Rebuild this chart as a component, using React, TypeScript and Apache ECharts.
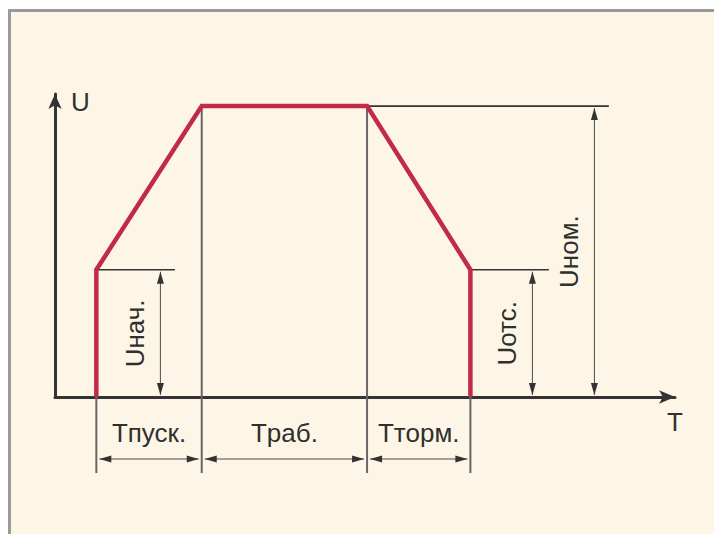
import React, { useEffect, useRef } from "react";
import * as echarts from "echarts";

// Phase boundary times: start, end of ramp-up, end of run, stop
const phaseTimes = [1.0, 3.55, 7.55, 10.05];
// Voltage levels
const uStart = 42; // Uнач.
const uNom = 96; // Uном.
const uStop = 42; // Uотс.

const phaseLabels = ["Tпуск.", "Tраб.", "Tторм."];
const levelLabels = ["Uнач.", "Uотс.", "Uном."];
const levelValues = [uStart, uStop, uNom];
// x positions (time units) of the vertical dimension arrows
const levelDimX = [2.55, 11.55, 13.05];
// end (time units) of the horizontal reference lines for each level
const levelLineEnd = [2.9, 11.95, 13.4];
// start (time units) of those reference lines
const levelLineStart = [phaseTimes[0], phaseTimes[3], phaseTimes[2]];

const profile = [
  [phaseTimes[0], 0],
  [phaseTimes[0], uStart],
  [phaseTimes[1], uNom],
  [phaseTimes[2], uNom],
  [phaseTimes[3], uStop],
  [phaseTimes[3], 0],
];

const FONT = "'Liberation Sans', Arial, sans-serif";
const FS = 26;
const TEXT_COLOR = "#2f2f2f";
const DARK = "#333333";

function arrowHead(tip: number[], from: number[], len: number, w: number, color: string) {
  const dx = tip[0] - from[0];
  const dy = tip[1] - from[1];
  const d = Math.hypot(dx, dy) || 1;
  const ux = dx / d, uy = dy / d;
  const nx = -uy, ny = ux;
  const bx = tip[0] - ux * len, by = tip[1] - uy * len;
  return {
    type: "polygon",
    shape: { points: [tip, [bx + (nx * w) / 2, by + (ny * w) / 2], [bx - (nx * w) / 2, by - (ny * w) / 2]] },
    style: { fill: color },
  };
}

export default function App() {
  const ref = useRef<HTMLDivElement>(null);
  useEffect(() => {
    if (!ref.current) return;
    const chart = echarts.init(ref.current, null, { renderer: "svg" });

    const refLineData = levelValues.map((v, i) => [levelLineStart[i], v, levelLineEnd[i], v]);
    const phaseLineData = phaseTimes.map((t, i) => [t, i === 1 || i === 2 ? uNom : 0]);
    const levelDimData = levelValues.map((v, i) => [levelDimX[i], v, i]);
    const phaseDimData = phaseLabels.map((_, i) => [phaseTimes[i], phaseTimes[i + 1], i]);

    const textStyle = (text: string) => ({
      text,
      fill: TEXT_COLOR,
      fontSize: FS,
      fontFamily: FONT,
      align: "center",
      verticalAlign: "middle",
    });

    chart.setOption({
      animation: false,
      backgroundColor: "#fdf6e6",
      grid: { left: 55, right: 39, top: 94, bottom: 137, containLabel: false },
      xAxis: {
        type: "value",
        min: 0,
        max: 15,
        axisLine: {
          show: true,
          symbol: ["none", "arrow"],
          symbolSize: [10, 16],
          lineStyle: { color: DARK, width: 3 },
        },
        axisTick: { show: false },
        axisLabel: { show: false },
        splitLine: { show: false },
        name: "T",
        nameLocation: "end",
        nameGap: 0,
        nameTextStyle: {
          fontFamily: FONT,
          fontSize: FS,
          color: TEXT_COLOR,
          align: "center",
          verticalAlign: "top",
          padding: [12, 0, 0, 0],
        },
      },
      yAxis: {
        type: "value",
        min: 0,
        max: 100,
        axisLine: {
          show: true,
          symbol: ["none", "arrow"],
          symbolSize: [10, 15],
          lineStyle: { color: DARK, width: 3 },
        },
        axisTick: { show: false },
        axisLabel: { show: false },
        splitLine: { show: false },
        name: "U",
        nameLocation: "end",
        nameGap: -8,
        nameTextStyle: {
          fontFamily: FONT,
          fontSize: FS,
          color: TEXT_COLOR,
          align: "left",
          verticalAlign: "middle",
          padding: [0, 0, 0, 16],
        },
      },
      graphic: [
        { type: "rect", shape: { x: 0, y: 0, width: 714, height: 9 }, style: { fill: "#ffffff" }, silent: true },
        { type: "rect", shape: { x: 0, y: 0, width: 8, height: 534 }, style: { fill: "#ffffff" }, silent: true },
        { type: "rect", shape: { x: 8, y: 9, width: 706, height: 3 }, style: { fill: "#9a9a9a" }, silent: true },
        { type: "rect", shape: { x: 8, y: 9, width: 3, height: 525 }, style: { fill: "#9a9a9a" }, silent: true },
      ],
      series: [
        {
          name: "refLines",
          type: "custom",
          z: 3,
          clip: false,
          data: refLineData,
          renderItem: (_p: any, api: any) => {
            const a = api.coord([api.value(0), api.value(1)]);
            const b = api.coord([api.value(2), api.value(3)]);
            return {
              type: "line",
              shape: { x1: a[0], y1: a[1], x2: b[0], y2: b[1] },
              style: { stroke: DARK, lineWidth: 1.6 },
            };
          },
        },
        {
          name: "phaseLines",
          type: "custom",
          z: 3,
          clip: false,
          data: phaseLineData,
          renderItem: (_p: any, api: any) => {
            const top = api.coord([api.value(0), api.value(1)]);
            const base = api.coord([api.value(0), 0]);
            return {
              type: "line",
              shape: { x1: top[0], y1: top[1], x2: top[0], y2: base[1] + 76 },
              style: { stroke: "#666666", lineWidth: 2 },
            };
          },
        },
        {
          name: "levelDims",
          type: "custom",
          z: 3,
          clip: false,
          data: levelDimData,
          renderItem: (_p: any, api: any) => {
            const x = api.value(0);
            const lvl = api.value(1);
            const idx = api.value(2);
            const bot = api.coord([x, 0]);
            const top = api.coord([x, lvl]);
            const mid = api.coord([x, lvl / 2]);
            return {
              type: "group",
              children: [
                {
                  type: "line",
                  shape: { x1: bot[0], y1: bot[1] - 2, x2: top[0], y2: top[1] + 2 },
                  style: { stroke: "#4a4a4a", lineWidth: 1 },
                },
                arrowHead([top[0], top[1] + 2], [bot[0], bot[1]], 12, 7, DARK),
                arrowHead([bot[0], bot[1] - 2], [top[0], top[1]], 12, 7, DARK),
                {
                  type: "text",
                  x: mid[0] - 25,
                  y: mid[1],
                  rotation: Math.PI / 2,
                  style: textStyle(levelLabels[idx]),
                },
              ],
            };
          },
        },
        {
          name: "phaseDims",
          type: "custom",
          z: 3,
          clip: false,
          data: phaseDimData,
          renderItem: (_p: any, api: any) => {
            const t1 = api.value(0);
            const t2 = api.value(1);
            const idx = api.value(2);
            const a = api.coord([t1, 0]);
            const b = api.coord([t2, 0]);
            const y = a[1] + 62;
            const l = [a[0] + 3, y];
            const r = [b[0] - 3, y];
            return {
              type: "group",
              children: [
                {
                  type: "line",
                  shape: { x1: l[0], y1: y, x2: r[0], y2: y },
                  style: { stroke: "#4a4a4a", lineWidth: 1 },
                },
                arrowHead(l, r, 12, 7, DARK),
                arrowHead(r, l, 12, 7, DARK),
                {
                  type: "text",
                  x: (a[0] + b[0]) / 2,
                  y: a[1] + 36,
                  style: textStyle(phaseLabels[idx]),
                },
              ],
            };
          },
        },
        {
          name: "U",
          type: "line",
          z: 5,
          clip: false,
          data: profile,
          symbol: "none",
          lineStyle: { color: "#c22b48", width: 4.5, join: "miter" },
        },
      ],
    });
    return () => chart.dispose();
  }, []);
  return (
    <div
      ref={ref}
      style={{ position: "fixed", left: 0, top: 0, width: 714, height: 534 }}
    />
  );
}
